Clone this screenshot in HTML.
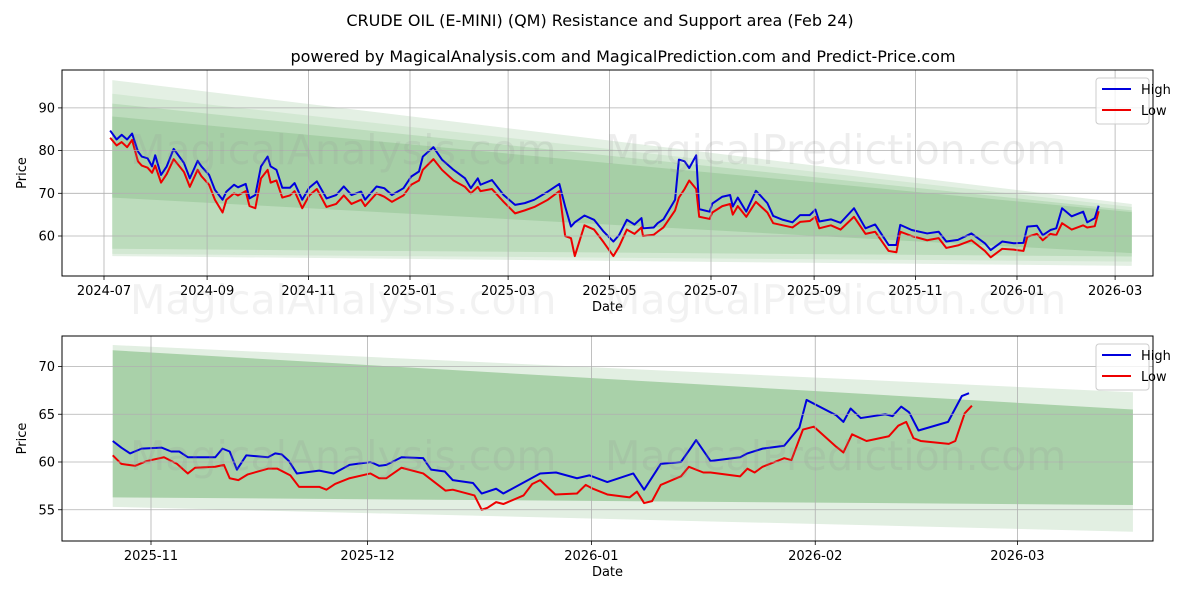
<!DOCTYPE html>
<html><head><meta charset="utf-8"><style>
body{margin:0;background:#fff;}
svg{font-family:"DejaVu Sans","Liberation Sans",sans-serif;}
</style></head><body>
<svg id="chart" width="1200" height="600" xmlns="http://www.w3.org/2000/svg">
<rect width="1200" height="600" fill="#fff"/>
<text x="600" y="26" text-anchor="middle" font-size="16">CRUDE OIL (E-MINI) (QM) Resistance and Support area (Feb 24)</text>
<text x="623" y="62" text-anchor="middle" font-size="16">powered by MagicalAnalysis.com and MagicalPrediction.com and Predict-Price.com</text>
<g id="top"></g>
<g id="bot"></g>
</svg>
<script>
// Top panel data: day offsets from 2024-07-01
const topDays=[3.7,7.6,10.6,13.9,16.9,20.4,22.7,26.2,28.9,30.8,34.3,37.7,41.9,48.1,51.6,56.3,58.6,63.2,66.7,71.3,73.6,78.2,80.6,85.2,87.5,91,94.4,98.4,100.2,103.7,107.2,111.8,114.6,119.2,123.4,128,133.8,139.6,144.2,148.8,154.6,157,163.9,168.5,173.1,180.1,184.7,189.4,191.7,198.1,203.2,210.2,217.1,220.6,224.8,226.4,233.3,240.3,247.2,253,258.8,266.9,273.8,277.3,280.8,283.1,288.9,294.7,300.5,306.3,309.7,314.4,319,323.2,324.1,330.6,332.9,336.4,343.4,345.7,349.1,351.9,356.1,357.9,364.2,365.8,371.8,376.5,378.1,381.1,386.2,392,398.9,402.4,408.2,414,418.6,424.4,427.8,430.1,437.1,442.9,451,457.9,463.7,471.8,476.5,478.8,485.7,495,501.9,506.5,513.5,521.6,529.7,533.2,540.1,547.1,552.9,555.2,561,564.5,569.1,572.6,576.1,581.9,588.8,591.2,595.8,598.1];
const topHigh=[84.7,82.6,83.7,82.6,84,79.8,78.6,78.2,76.3,78.9,74.3,76.3,80.4,77.1,73.5,77.6,76.3,74.3,70.8,68.5,70.4,72,71.4,72.2,68.8,69.6,76.3,78.6,76.3,75.5,71.3,71.3,72.4,68.5,71.3,72.8,68.8,69.6,71.6,69.6,70.4,68.5,71.6,71.2,69.6,71.2,73.9,75.1,78.6,80.8,77.9,75.5,73.5,71.2,73.5,72,73.1,69.6,67.3,67.7,68.5,70.4,72.2,66.9,62.2,63.2,64.8,63.8,61,58.7,60.2,63.8,62.7,64.2,61.8,62,63,63.9,68.5,77.9,77.5,75.9,78.9,66.3,65.7,67.6,69.2,69.6,66.9,69,65.7,70.6,67.7,64.7,63.8,63.2,64.9,64.9,66.2,63.4,63.9,63.1,66.5,61.8,62.7,57.9,57.9,62.6,61.4,60.6,61,58.7,59.1,60.6,58.3,56.7,58.7,58.3,58.4,62.2,62.4,60.2,61.4,61.8,66.5,64.6,65.7,63.2,64.2,67.1];
const topLow=[83,81.2,82,80.8,82.5,77.5,76.5,76,74.8,76.5,72.5,74.5,78,75,71.5,75.5,74,72,68.5,65.5,68.5,70,69.5,70.5,67,66.5,73.5,75.5,72.5,73,69,69.5,70.5,66.5,69.5,71,66.8,67.5,69.5,67.5,68.5,67,70,69.2,68,69.5,72,73,75.5,78,75.5,73,71.5,70,71.5,70.5,71,68,65.3,66,66.8,68.5,70.5,60,59.5,55.3,62.5,61.5,58.5,55.3,57.5,61.5,60.5,62,60,60.3,61,62,66,69,71,73,71,64.5,64,65.5,67,67.5,65,67,64.5,68,65.5,63,62.5,62,63.3,63.5,64.5,61.8,62.5,61.5,64.5,60.5,61,56.5,56.2,61,60,59,59.5,57.2,57.8,59,56.5,55,57,56.8,56.5,59.8,60.5,59,60.5,60.2,63,61.5,62.5,62,62.3,65.8];
// Bottom panel data: day offsets from 2025-11-01
const botDaysH=[-5.3,-4.1,-2.9,-1.3,1.5,2.8,3.9,5.1,8.9,9.9,10.9,11.9,13.2,16.2,17.2,18.1,19.1,20.2,23.3,25.3,27.5,30.4,31.6,32.6,34.7,37.7,38.8,40.7,41.8,44.6,45.8,47.8,48.8,53.9,56.1,59,60.7,63.2,66.8,68.3,70.6,73.4,74.7,75.5,77.5,81.6,82.6,84.7,87.7,89.8,90.8,94.9,95.9,96.9,98.3,101.7,102.7,103.9,105,106.3,110.4,112.3,113.3];
const botHigh=[62.2,61.5,60.9,61.4,61.5,61.1,61.1,60.5,60.5,61.4,61.1,59.2,60.7,60.5,60.9,60.8,60.1,58.8,59.1,58.8,59.7,60,59.6,59.7,60.5,60.4,59.2,59,58.1,57.8,56.7,57.2,56.7,58.8,58.9,58.3,58.6,57.9,58.8,57.1,59.8,60,61.4,62.3,60.1,60.5,60.9,61.4,61.7,63.6,66.5,64.9,64.2,65.6,64.6,65,64.8,65.8,65.2,63.3,64.2,66.9,67.2];
const botDaysL=[-5.3,-4.1,-2.2,-0.6,1.8,3.6,5.1,6.1,8.9,10.1,10.9,12.1,13.4,16.2,17.5,19.3,20.5,23.3,24.3,25.5,27.5,30.4,31.6,32.6,34.7,37.7,40.8,41.8,44.8,45.8,46.6,47.8,48.8,51.6,52.8,53.9,56,59,60.2,61.2,63.2,66.3,67.3,68.3,69.4,70.6,73.4,74.5,76.5,77.5,81.6,82.6,83.6,84.7,87.7,88.7,90.3,91.8,94.9,95.9,97.1,99.1,102.2,103.5,104.6,105.6,106.6,110.5,111.4,112.7,113.7];
const botLow=[60.7,59.8,59.6,60.1,60.5,59.8,58.8,59.4,59.5,59.7,58.3,58.1,58.7,59.3,59.3,58.6,57.4,57.4,57.1,57.7,58.3,58.8,58.3,58.3,59.4,58.8,57,57.1,56.5,55,55.2,55.8,55.6,56.5,57.7,58.1,56.6,56.7,57.6,57.2,56.6,56.3,56.9,55.7,55.9,57.6,58.5,59.5,58.9,58.9,58.5,59.3,58.9,59.5,60.4,60.2,63.4,63.7,61.6,61,62.9,62.2,62.7,63.8,64.2,62.5,62.2,61.9,62.2,65.1,65.9];
// Band edges [top start, top end, bottom start, bottom end]
const topBands=[[96.5,67.5,55.3,53],[93.3,66.8,55.8,54],[91,66,57,55.2],[88,65.6,69,56]];
const botBands=[[72.25,67.3,55.3,52.7],[71.7,65.5,56.3,55.5]];
const bandColors=['#e4f0e4','#d3e8d3','#bcdcbc','#a6cfa6'];
const botBandColors=['#e2efe2','#a9d1a9'];
const topYTicks=[60,70,80,90];
const topXTicks=['2024-07','2024-09','2024-11','2025-01','2025-03','2025-05','2025-07','2025-09','2025-11','2026-01','2026-03'];
const topXTickDays=[0,62,123,184,243,304,365,427,488,549,608];
const botYTicks=[55,60,65,70];
const botXTicks=['2025-11','2025-12','2026-01','2026-02','2026-03'];
const botXTickDays=[0,30,61,92,120];

const NS='http://www.w3.org/2000/svg';
function mk(parent,tag,attrs){const e=document.createElementNS(NS,tag);for(const k in attrs)e.setAttribute(k,attrs[k]);parent.appendChild(e);return e;}

function panel(g,o){
  const {L,R,T,B,xs,ys}=o;
  const clipId=o.id+'clip';
  const defs=mk(g,'defs',{});const cp=mk(defs,'clipPath',{id:clipId});mk(cp,'rect',{x:L,y:T,width:R-L,height:B-T});
  const inner=mk(g,'g',{'clip-path':'url(#'+clipId+')'});
  o.bands.forEach((b,i)=>{
    const x0=xs(o.bandStart),x1=xs(o.bandEnd);
    const p=mk(inner,'polygon',{points:`${x0},${ys(b[0])} ${x1},${ys(b[1])} ${x1},${ys(b[3])} ${x0},${ys(b[2])}`,fill:o.colors[i]});
    
    
  });
  o.xTickDays.forEach((d,i)=>{
    const x=xs(d);
    const l=mk(g,'line',{x1:x,x2:x,y1:T,y2:B,stroke:'#b0b0b0','stroke-width':0.8});
    
    
    mk(g,'line',{x1:x,x2:x,y1:B,y2:B+4,stroke:'#000','stroke-width':0.8});
    const t=mk(g,'text',{x:x,y:B+19,'text-anchor':'middle','font-size':13});t.textContent=o.xTicks[i];
    
    
  });
  o.yTicks.forEach(v=>{
    const y=ys(v);
    const l=mk(g,'line',{x1:L,x2:R,y1:y,y2:y,stroke:'#b0b0b0','stroke-width':0.8});
    
    
    mk(g,'line',{x1:L-4,x2:L,y1:y,y2:y,stroke:'#000','stroke-width':0.8});
    const t=mk(g,'text',{x:L-7,y:y+4.5,'text-anchor':'end','font-size':13});t.textContent=v;
    
    
  });
  o.wm.forEach(w=>{
    const t=mk(g,'text',{x:w[0],y:w[1],'font-size':41,fill:'rgba(150,150,150,0.17)'});t.textContent=w[2];
    
    
  });
  const line=(days,vals,color,name)=>{
    const p=mk(inner,'polyline',{points:days.map((d,i)=>xs(d)+','+ys(vals[i])).join(' '),fill:'none',stroke:color,'stroke-width':2,'stroke-linejoin':'round'});
    
    
  };
  line(o.hd,o.hv,'#0000dd','high-line');
  line(o.ld,o.lv,'#ee0000','low-line');
  mk(g,'rect',{x:L,y:T,width:R-L,height:B-T,fill:'none',stroke:'#000','stroke-width':1});
  const xl=mk(g,'text',{x:(L+R)/2,y:B+35,'text-anchor':'middle','font-size':13});xl.textContent='Date';
  
  
  const yl=mk(g,'text',{x:0,y:0,'text-anchor':'middle','font-size':13,transform:`translate(26,${(T+B)/2}) rotate(-90)`});yl.textContent='Price';
  
  
  const lg=mk(g,'g',{});
  
  
  mk(lg,'rect',{x:1096,y:T+8,width:53,height:46,rx:3,fill:'rgba(255,255,255,0.8)',stroke:'#ccc'});
  [['High','#0000dd'],['Low','#ee0000']].forEach((e,i)=>{
    const y=T+19+i*21;
    mk(lg,'line',{x1:1102,x2:1131,y1:y,y2:y,stroke:e[1],'stroke-width':2});
    const t=mk(lg,'text',{x:1141,y:y+5,'font-size':13});t.textContent=e[0];
    
    
  });
}
panel(document.getElementById('top'),{id:'t',L:62,R:1153,T:70,B:276,
  xs:d=>104+d*1.663, ys:v=>236-(v-60)*4.27,
  bands:topBands,colors:bandColors,bandStart:5,bandEnd:618,
  xTicks:topXTicks,xTickDays:topXTickDays,yTicks:topYTicks,
  hd:topDays,hv:topHigh,ld:topDays,lv:topLow,
  wm:[[130,164,'MagicalAnalysis.com'],[605,164,'MagicalPrediction.com']]});
panel(document.getElementById('bot'),{id:'b',L:62,R:1153,T:336,B:541,
  xs:d=>151+d*7.22, ys:v=>462-(v-60)*9.55,
  bands:botBands,colors:botBandColors,bandStart:-5.3,bandEnd:136,
  xTicks:botXTicks,xTickDays:botXTickDays,yTicks:botYTicks,
  hd:botDaysH,hv:botHigh,ld:botDaysL,lv:botLow,
  wm:[[130,470,'MagicalAnalysis.com'],[605,470,'MagicalPrediction.com']]});
const svg=document.getElementById('chart');
[[130,314,'MagicalAnalysis.com'],[605,314,'MagicalPrediction.com']].forEach(w=>{
  const t=mk(svg,'text',{x:w[0],y:w[1],'font-size':41,fill:'rgba(150,150,150,0.12)'});t.textContent=w[2];
  
  
});
</script>
</body></html>
